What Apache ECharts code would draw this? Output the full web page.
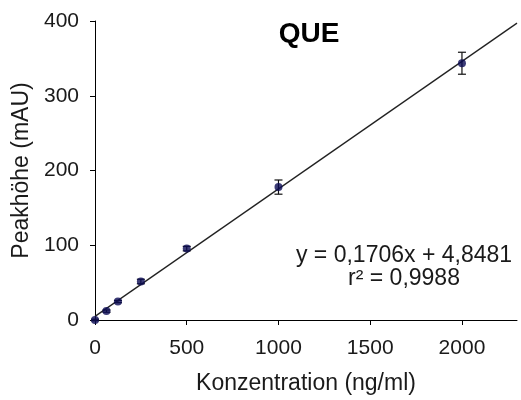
<!DOCTYPE html>
<html>
<head>
<meta charset="utf-8">
<script src="https://cdn.jsdelivr.net/npm/echarts@6/dist/echarts.min.js"></script>
<style>
html,body{margin:0;padding:0;background:#fff;}
#c{width:521px;height:400px;}
</style>
</head>
<body>
<div id="c"></div>
<script>
// Data
const concentrations = [0, 62.5, 125, 250, 500, 1000, 2000];
const peakHeights = [0, 11.9, 24.7, 51.5, 95.5, 177.8, 343.5];
const errors = [1, 1.5, 1.5, 3, 3, 9.5, 14.7];
const trendX = [0, 2300];
const trendY = [4.85, 397.2];
const xTicks = [0, 500, 1000, 1500, 2000];
const yTicks = [0, 100, 200, 300, 400];
const titleText = 'QUE';
const equationLines = ['y = 0,1706x + 4,8481', 'r\u00B2 = 0,9988'];
const xName = 'Konzentration (ng/ml)';
const yName = 'Peakh\u00F6he (mAU)';

const FONT = 'Arial, "Liberation Sans", sans-serif';
const chart = echarts.init(document.getElementById('c'), null, {renderer: 'canvas'});

const pointData = concentrations.map((x, i) => [x, peakHeights[i]]);
const errData = concentrations.map((x, i) => [x, peakHeights[i] - errors[i], peakHeights[i] + errors[i]]);
const trendData = trendX.map((x, i) => [x, trendY[i]]);

chart.setOption({
  animation: false,
  backgroundColor: '#fff',
  grid: {left: 95, right: 4, top: 21, bottom: 77, containLabel: false},
  xAxis: {
    type: 'value', min: 0, max: 2300, interval: 500,
    name: xName, nameLocation: 'middle', nameGap: 52,
    nameTextStyle: {fontFamily: FONT, fontSize: 23, color: '#1a1a1a'},
    axisLine: {show: true, onZero: false, lineStyle: {color: '#000', width: 1}},
    axisTick: {show: true, length: 5, inside: false, customValues: xTicks, lineStyle: {color: '#000'}},
    axisLabel: {fontFamily: FONT, fontSize: 21, color: '#1a1a1a', margin: 18, customValues: xTicks,
      formatter: function (v) { return String(v); }},
    splitLine: {show: false}
  },
  yAxis: {
    type: 'value', min: 0, max: 400, interval: 100,
    name: yName, nameLocation: 'middle', nameGap: 59,
    nameTextStyle: {fontFamily: FONT, fontSize: 23, color: '#1a1a1a'},
    axisLine: {show: true, lineStyle: {color: '#000', width: 1}},
    axisTick: {show: true, length: 5, inside: false, customValues: yTicks, lineStyle: {color: '#000'}},
    axisLabel: {fontFamily: FONT, fontSize: 21, color: '#1a1a1a', margin: 16, customValues: yTicks,
      formatter: function (v) { return String(v); }},
    splitLine: {show: false}
  },
  graphic: [
    {type: 'text', x: 309, y: 34,
     style: {text: titleText, x: 0, y: 0, align: 'center', verticalAlign: 'middle',
       font: 'bold 28px ' + FONT, fill: '#000'}},
    {type: 'text', x: 404, y: 256,
     style: {text: equationLines[0], x: 0, y: 0, align: 'center', verticalAlign: 'middle',
       font: '23px ' + FONT, fill: '#1a1a1a'}},
    {type: 'text', x: 404, y: 279,
     style: {text: equationLines[1], x: 0, y: 0, align: 'center', verticalAlign: 'middle',
       font: '23px ' + FONT, fill: '#1a1a1a'}}
  ],
  series: [
    {
      type: 'line', data: trendData, showSymbol: false, symbol: 'none',
      lineStyle: {color: '#222', width: 1.3}, z: 2, silent: true
    },
    {
      type: 'custom', z: 3,
      data: errData,
      renderItem: function (params, api) {
        const x = api.value(0);
        const lo = api.coord([x, api.value(1)]);
        const hi = api.coord([x, api.value(2)]);
        const w = 4;
        const st = {stroke: '#111', lineWidth: 1.2};
        return {type: 'group', children: [
          {type: 'line', shape: {x1: lo[0], y1: lo[1], x2: hi[0], y2: hi[1]}, style: st},
          {type: 'line', shape: {x1: lo[0] - w, y1: lo[1], x2: lo[0] + w, y2: lo[1]}, style: st},
          {type: 'line', shape: {x1: hi[0] - w, y1: hi[1], x2: hi[0] + w, y2: hi[1]}, style: st}
        ]};
      }
    },
    {
      type: 'scatter', data: pointData, symbol: 'circle', symbolSize: 8,
      itemStyle: {color: '#0b0b55'}, z: 4
    }
  ]
});
</script>
</body>
</html>
